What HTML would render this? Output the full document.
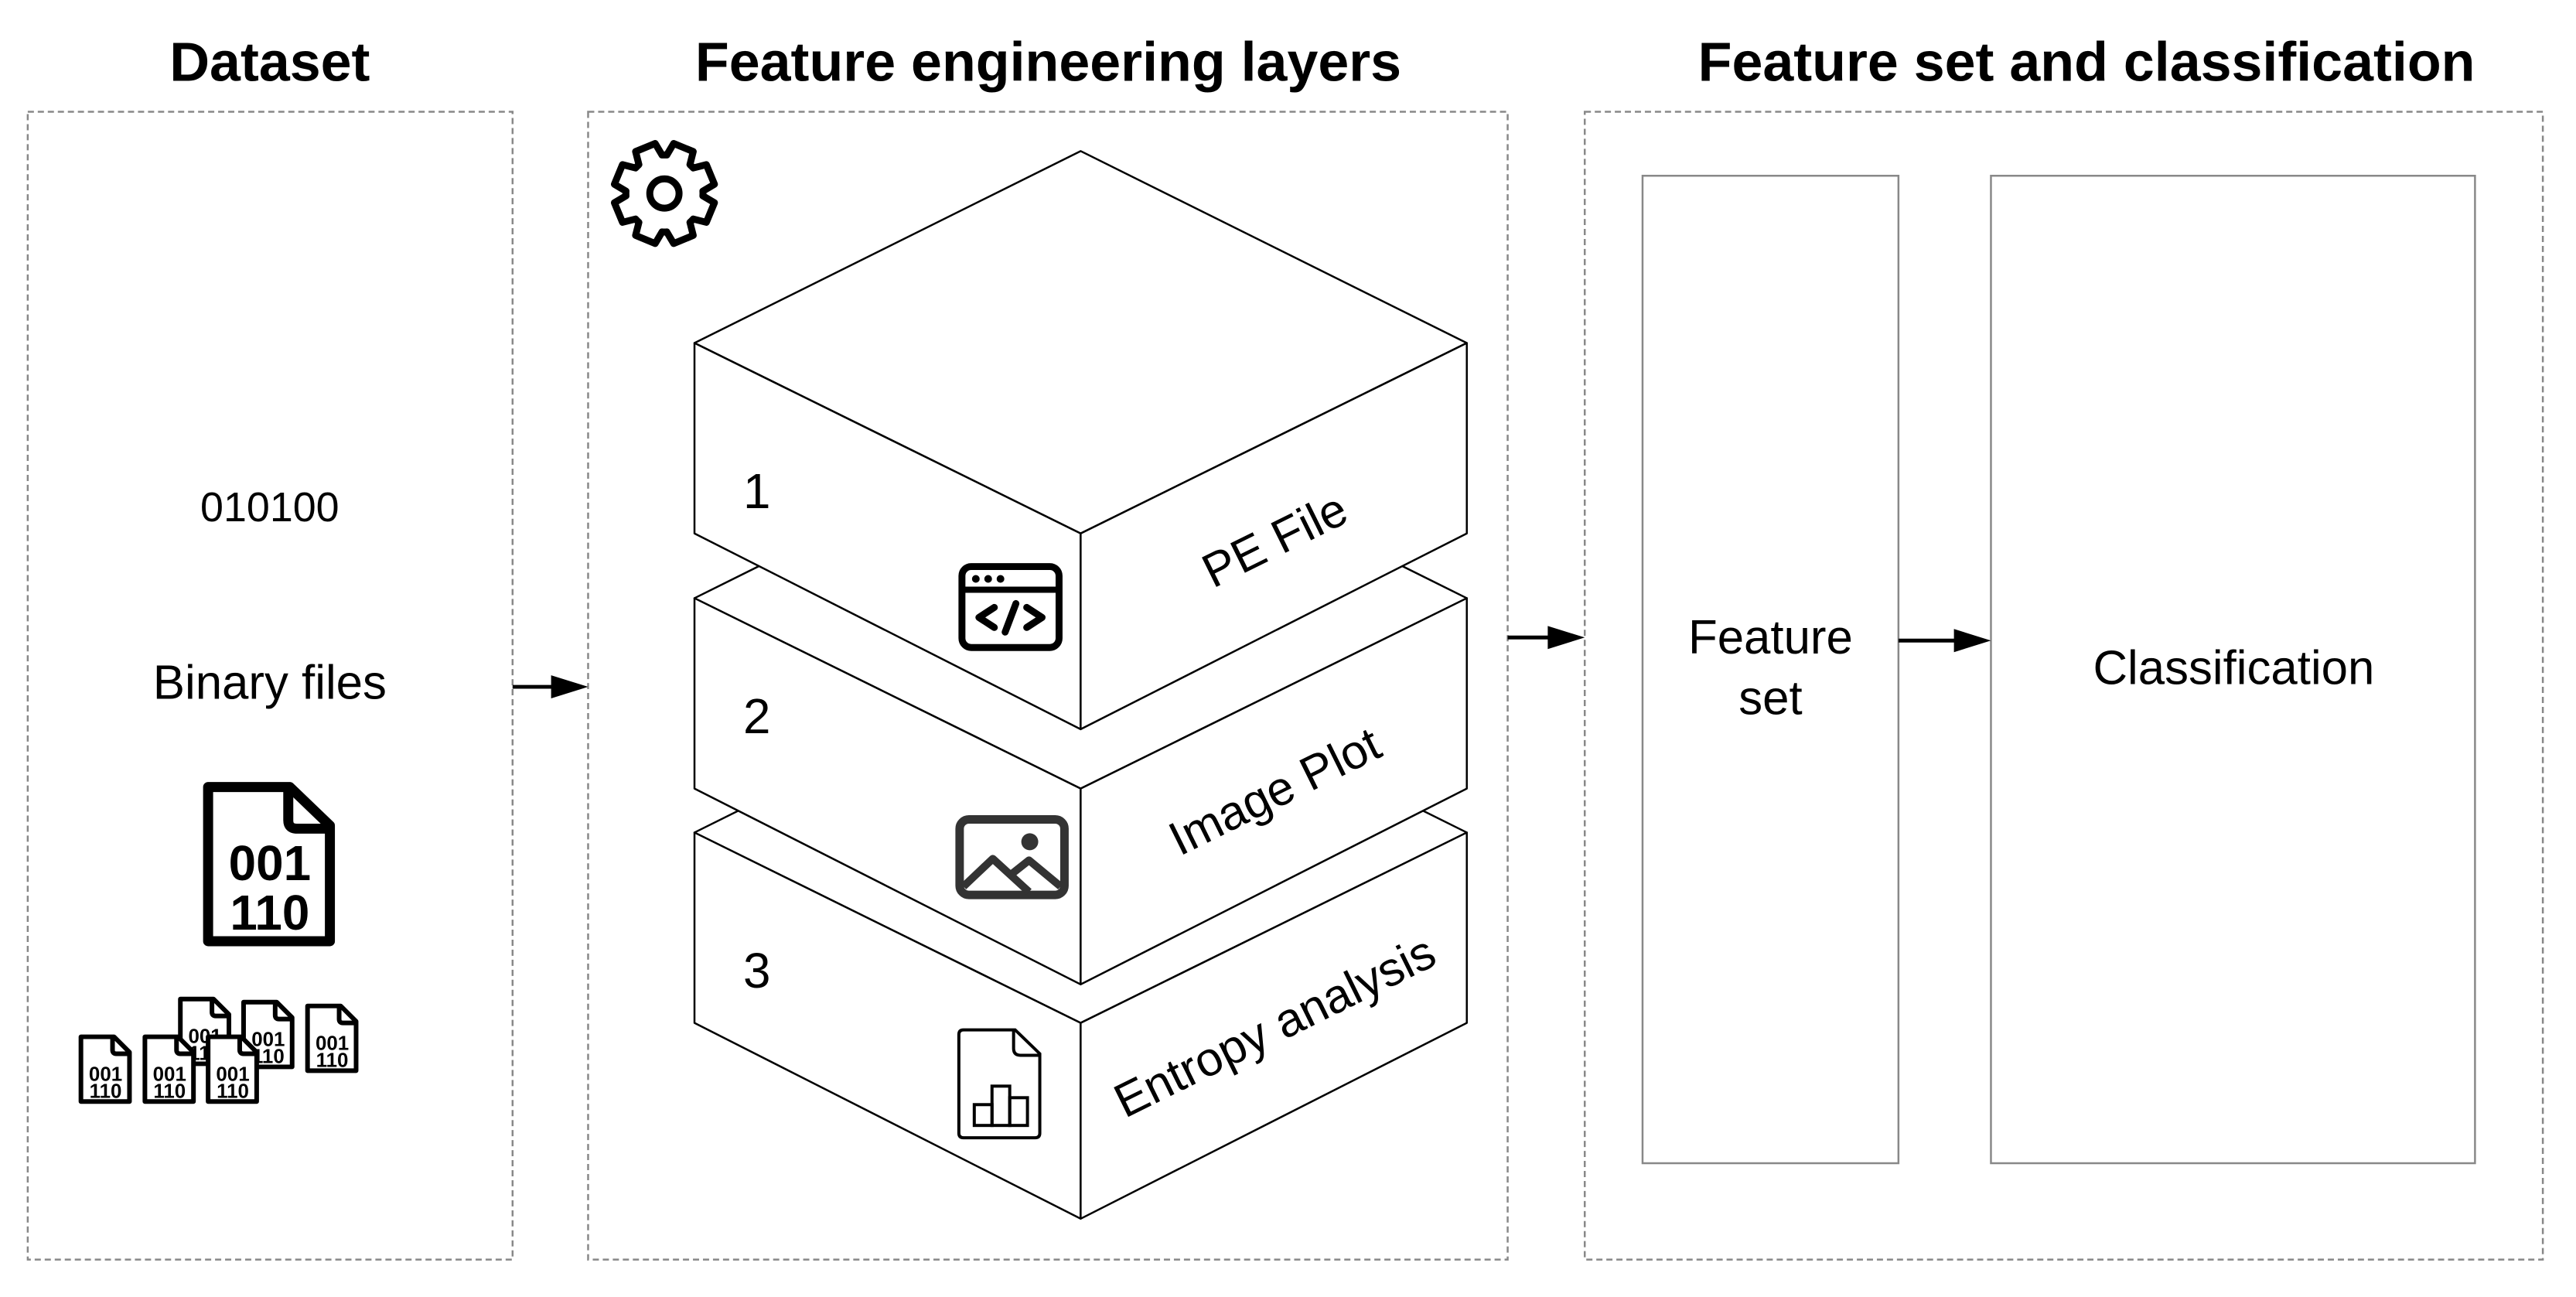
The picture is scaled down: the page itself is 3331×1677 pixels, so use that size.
<!DOCTYPE html>
<html><head><meta charset="utf-8"><style>
html,body{margin:0;padding:0;background:#fff;}
svg{display:block;}
text{font-family:"Liberation Sans",Arial,sans-serif;fill:#000;}
</style></head><body>
<svg id="s" width="3331" height="1677" viewBox="0 0 3331 1677" xmlns="http://www.w3.org/2000/svg">
<defs>
<g id="sf">
<path d="M5 3 H48 L68 23 V87 H5 Z" fill="#fff" stroke="#000" stroke-width="6" stroke-linejoin="round"/>
<path d="M46 3 V20 Q46 25 51 25 H68" fill="none" stroke="#000" stroke-width="6"/>
<text x="37" y="60" font-size="26" font-weight="bold" text-anchor="middle">001</text>
<text x="37" y="82" font-size="26" font-weight="bold" text-anchor="middle">110</text>
</g>
</defs>
<g transform="scale(0.9967)">
<!-- titles -->
<text x="350" y="81" font-size="72" font-weight="bold" text-anchor="middle" dominant-baseline="central">Dataset</text>
<text x="1360" y="81" font-size="72" font-weight="bold" text-anchor="middle" dominant-baseline="central">Feature engineering layers</text>
<text x="2707" y="81" font-size="72" font-weight="bold" text-anchor="middle" dominant-baseline="central">Feature set and classification</text>
<!-- dashed containers -->
<g fill="none" stroke="#888" stroke-width="2.5" stroke-dasharray="8 5">
<rect x="36" y="145" width="629" height="1489"/>
<rect x="763" y="145" width="1193" height="1489"/>
<rect x="2056" y="145" width="1243" height="1489"/>
</g>
<rect x="2131" y="228" width="332" height="1281" fill="none" stroke="#888" stroke-width="2.5"/>
<rect x="2583" y="228" width="628" height="1281" fill="none" stroke="#888" stroke-width="2.5"/>
<text x="2297" y="827" font-size="62" text-anchor="middle" dominant-baseline="central">Feature</text>
<text x="2297" y="906" font-size="62" text-anchor="middle" dominant-baseline="central">set</text>
<text x="2898" y="867" font-size="62" text-anchor="middle" dominant-baseline="central">Classification</text>
<!-- arrows -->
<g stroke="#000" stroke-width="5">
<line x1="665" y1="891" x2="725" y2="891"/>
<line x1="1956" y1="827" x2="2018" y2="827"/>
<line x1="2463" y1="831" x2="2545" y2="831"/>
</g>
<g fill="#000">
<polygon points="763,891 715,876 715,906"/>
<polygon points="2056,827 2008,812 2008,842"/>
<polygon points="2583,831 2535,816 2535,846"/>
</g>
<!-- dataset -->
<text x="350" y="658" font-size="54" text-anchor="middle" dominant-baseline="central">010100</text>
<text x="350" y="886" font-size="62" text-anchor="middle" dominant-baseline="central">Binary files</text>
<path d="M270 1021 H376 L428 1071 V1221 H270 Z" fill="#fff" stroke="#000" stroke-width="13" stroke-linejoin="round"/>
<path d="M374 1021 V1064 Q374 1075 385 1075 H428" fill="none" stroke="#000" stroke-width="13"/>
<text x="350" y="1142" font-size="64" font-weight="bold" text-anchor="middle">001</text>
<text x="350" y="1206" font-size="64" font-weight="bold" text-anchor="middle">110</text>
<use href="#sf" x="229" y="1293"/>
<use href="#sf" x="311" y="1297"/>
<use href="#sf" x="394" y="1302"/>
<use href="#sf" x="100" y="1342"/>
<use href="#sf" x="183" y="1342"/>
<use href="#sf" x="265" y="1342"/>
<!-- gear -->
<path id="gear" d="" fill="none" stroke="#000" stroke-width="9" stroke-linejoin="round"/>
<circle cx="862" cy="251" r="19" fill="none" stroke="#000" stroke-width="9"/>
<!-- cubes (back to front) -->
<g fill="#fff" stroke="#000" stroke-width="2.5" stroke-linejoin="round">
<g transform="translate(0,635)">
<polygon points="1402,196 1903,445 1402,692 901,445"/>
<polygon points="901,445 1402,692 1402,946 901,692"/>
<polygon points="1402,692 1903,445 1903,692 1402,946"/>
</g>
<g transform="translate(0,331)">
<polygon points="1402,196 1903,445 1402,692 901,445"/>
<polygon points="901,445 1402,692 1402,946 901,692"/>
<polygon points="1402,692 1903,445 1903,692 1402,946"/>
</g>
<polygon points="1402,196 1903,445 1402,692 901,445"/>
<polygon points="901,445 1402,692 1402,946 901,692"/>
<polygon points="1402,692 1903,445 1903,692 1402,946"/>
</g>
<text x="982" y="637" font-size="64" text-anchor="middle" dominant-baseline="central">1</text>
<text x="982" y="929" font-size="64" text-anchor="middle" dominant-baseline="central">2</text>
<text x="982" y="1259" font-size="64" text-anchor="middle" dominant-baseline="central">3</text>
<text font-size="62" text-anchor="middle" dominant-baseline="central" transform="translate(1654,701) rotate(-26.3)">PE File</text>
<text font-size="62" text-anchor="middle" dominant-baseline="central" transform="translate(1654,1027) rotate(-26.3)">Image Plot</text>
<text font-size="62" text-anchor="middle" dominant-baseline="central" transform="translate(1654,1332) rotate(-26.3)">Entropy analysis</text>
<!-- code icon -->
<rect x="1248" y="735" width="126" height="105" rx="12" fill="#fff" stroke="#000" stroke-width="9"/>
<line x1="1248" y1="765" x2="1374" y2="765" stroke="#000" stroke-width="8"/>
<circle cx="1266" cy="751" r="5"/><circle cx="1282" cy="751" r="5"/><circle cx="1298" cy="751" r="5"/>
<g fill="none" stroke="#000" stroke-width="9" stroke-linecap="round" stroke-linejoin="round">
<polyline points="1290,788 1270,801 1290,814"/>
<polyline points="1332,788 1352,801 1332,814"/>
<line x1="1318" y1="783" x2="1304" y2="820"/>
</g>
<!-- image icon -->
<rect x="1245" y="1063" width="136" height="98" rx="12" fill="#fff" stroke="#333" stroke-width="11"/>
<polyline points="1250,1150 1288,1114 1335,1157" fill="none" stroke="#333" stroke-width="10" stroke-linejoin="round"/>
<polyline points="1311,1135 1335,1116 1376,1150" fill="none" stroke="#333" stroke-width="10" stroke-linejoin="round"/>
<circle cx="1336" cy="1092" r="11" fill="#333"/>
<!-- chart icon -->
<path d="M1250 1336 H1317 L1349 1367 V1470 Q1349 1476 1343 1476 H1250 Q1244 1476 1244 1470 V1342 Q1244 1336 1250 1336 Z" fill="#fff" stroke="#000" stroke-width="4"/>
<path d="M1315 1336 V1360 Q1315 1369 1324 1369 H1349" fill="none" stroke="#000" stroke-width="4"/>
<g fill="none" stroke="#000" stroke-width="4">
<rect x="1264" y="1433" width="23" height="27"/>
<rect x="1287" y="1409" width="23" height="51"/>
<rect x="1310" y="1424" width="23" height="36"/>
</g>
</g>
</svg>
<script>
(function(){
var cx=862,cy=251,ro=66,ri=50,n=8,d="";
for(var i=0;i<n;i++){
 var a0=(i*360/n+22.5-12)*Math.PI/180, a1=(i*360/n+22.5+12)*Math.PI/180;
 var b0=(i*360/n+22.5-19)*Math.PI/180, b1=(i*360/n+22.5+19)*Math.PI/180;
 var p=function(r,a){return (cx+r*Math.sin(a)).toFixed(1)+" "+(cy-r*Math.cos(a)).toFixed(1);};
 d+=(i==0?"M":"L")+p(ri,b0)+" L"+p(ro,a0)+" L"+p(ro,a1)+" L"+p(ri,b1)+" ";
 var nb=((i+1)*360/n+22.5-19)*Math.PI/180;
 d+="A"+ri+" "+ri+" 0 0 1 "+p(ri,nb)+" ";
}
d+="Z";
document.getElementById("gear").setAttribute("d",d);
})();
</script>
</body></html>
